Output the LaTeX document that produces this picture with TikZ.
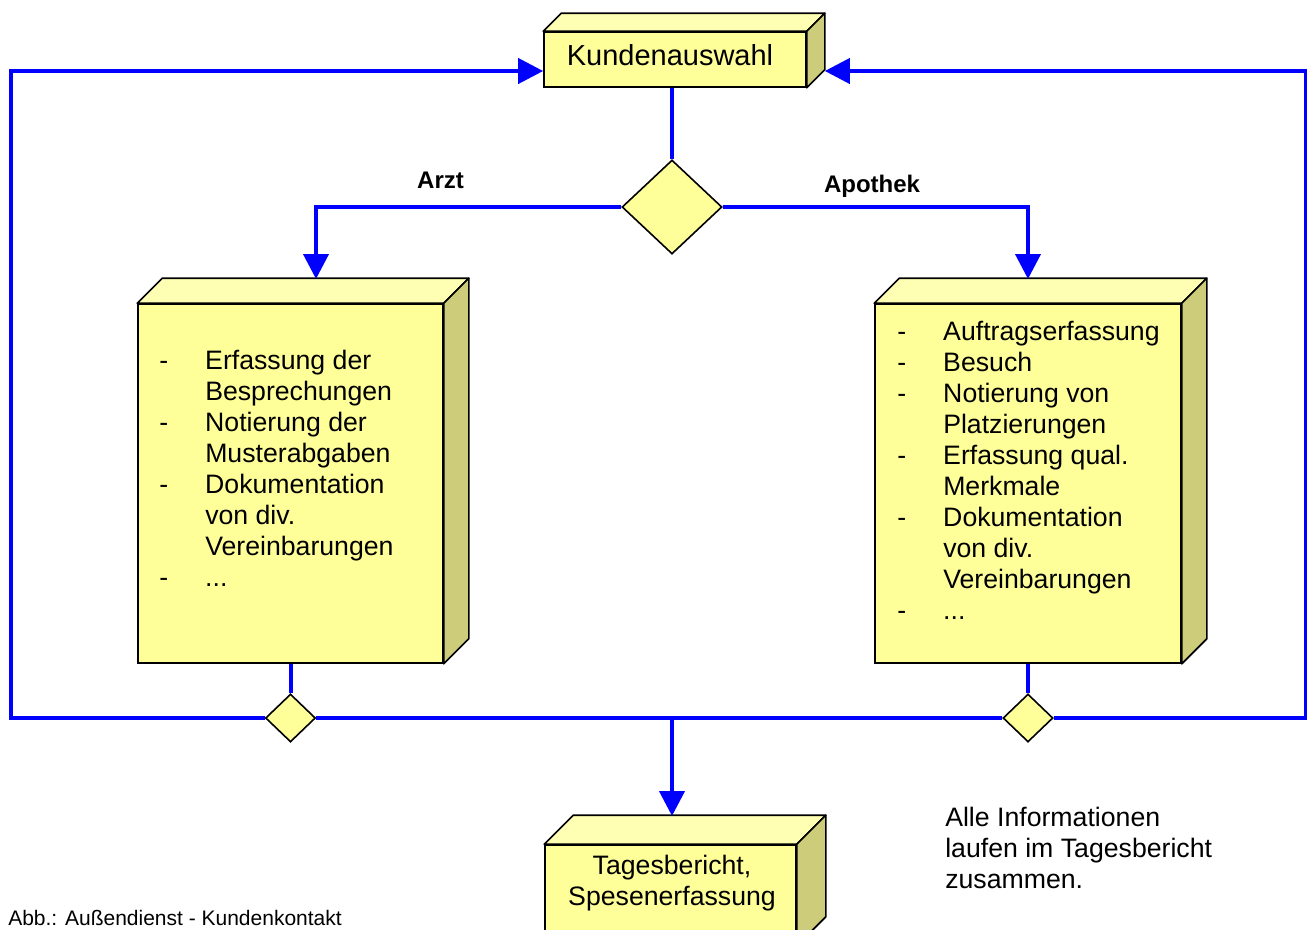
\documentclass[tikz,border=0pt]{standalone}
\usepackage{fontspec}
\setmainfont{Liberation Sans}
\usepackage{tikz}
\usetikzlibrary{shapes.geometric, arrows.meta, positioning, calc}
\definecolor{boxfront}{RGB}{255,255,153}
\definecolor{boxlid}{RGB}{255,255,179}
\definecolor{boxside}{RGB}{204,204,122}
\definecolor{flowblue}{RGB}{0,0,255}

% top and side face of a box, #1 = front node, #2 = depth
\newcommand{\boxfaces}[2]{%
  \draw[boxline, fill=boxlid] (#1.north west) -- ++(#2,-#2) -- ($(#1.north east)+(#2,-#2)$) -- (#1.north east) -- cycle;
  \draw[boxline, fill=boxside] (#1.north east) -- ++(#2,-#2) -- ($(#1.south east)+(#2,-#2)$) -- (#1.south east) -- cycle;
}

\begin{document}
\begin{tikzpicture}[x=0.75pt, y=-0.75pt,
    front/.style={draw, line width=1.2pt, fill=boxfront, inner sep=0pt},
    boxline/.style={line width=1.2pt, line join=round},
    choice/.style={diamond, draw, line width=1.2pt, fill=boxfront, inner sep=0pt},
    flow/.style={draw=flowblue, line width=3pt},
    flowarrow/.style={flow, -{Triangle[length=18.75pt, width=18.75pt]}},
    txt/.style={inner sep=0pt, font=\fontsize{20}{23.25}\selectfont},
    branch/.style={inner sep=0pt, font=\fontsize{18}{21}\selectfont\bfseries}]
    \useasboundingbox (0,0) rectangle (1307,929);
    \clip (0,0) rectangle (1307,929);

    % boxes
    \node[front, minimum width=196.5pt, minimum height=41.25pt] (kunden) at (675,59.5) {};
    \boxfaces{kunden}{18}
    \node[txt, anchor=base, font=\fontsize{21.75}{25}\selectfont] (kundentext) at (670,65) {Kundenauswahl};

    \node[front, minimum width=228.75pt, minimum height=269.25pt] (arzt) at (290.5,483.5) {};
    \boxfaces{arzt}{25}
    \node[front, minimum width=229.5pt, minimum height=269.25pt] (apo) at (1028,483.5) {};
    \boxfaces{apo}{25}
    \node[front, minimum width=188.25pt, minimum height=75pt] (tages) at (670.5,895) {};
    \boxfaces{tages}{29}

    % decisions
    \node[choice, minimum width=75pt, minimum height=70.5pt] (mainsel) at (672,207) {};
    \node[choice, minimum width=37.5pt, minimum height=36pt] (sel1) at (290.5,718) {};
    \node[choice, minimum width=37.5pt, minimum height=36pt] (sel2) at (1028,718) {};

    \coordinate (arztin) at (316,279);
    \coordinate (apoin) at (1028,279);
    \coordinate (tagesin) at (672,816);
    \coordinate (ltop) at (11,71);
    \coordinate (rtop) at (1306,71);
    \coordinate (kundenback) at ($(kunden.east)+(18,0)$);

    % connectors
    \draw[flow] (mainsel.north |- kunden.south) -- (mainsel.north);
    \draw[flowarrow] (mainsel.west) -| (arztin);
    \draw[flowarrow] (mainsel.east) -| (apoin);
    \draw[flow] (arzt.south) -- (sel1.north);
    \draw[flow] (apo.south) -- (sel2.north);
    \draw[flow] (sel1.east) -- (sel2.west);
    \draw[flowarrow] (sel1.west) -| (ltop) -- (ltop -| kunden.west);
    \draw[flowarrow] (sel2.east) -| (rtop) -- (rtop -| kundenback);
    \draw[flowarrow] (sel1.east -| tagesin) -- (tagesin);

    \node[branch, anchor=base] (arztlabel) at (440.5,188) {Arzt};
    \node[branch, anchor=base] (apolabel) at (872,192) {Apothek};

    % texts
    \node[txt, anchor=base west] (arztlist) at (159,369) {\begin{tabular}[t]{@{}p{34.5pt}@{}l@{}}
        - & Erfassung der\\
          & Besprechungen\\
        - & Notierung der\\
          & Musterabgaben\\
        - & Dokumentation\\
          & von div.\\
          & Vereinbarungen\\
        - & ...
      \end{tabular}};
    \node[txt, anchor=base west] (apolist) at (897,340) {\begin{tabular}[t]{@{}p{34.5pt}@{}l@{}}
        - & Auftragserfassung\\
        - & Besuch\\
        - & Notierung von\\
          & Platzierungen\\
        - & Erfassung qual.\\
          & Merkmale\\
        - & Dokumentation\\
          & von div.\\
          & Vereinbarungen\\
        - & ...
      \end{tabular}};
    \node[txt, anchor=base] (tagestext) at (672,874) {\begin{tabular}[t]{@{}c@{}}Tagesbericht,\\Spesenerfassung\end{tabular}};
    \node[txt, anchor=base west] (note) at (945,826) {\begin{tabular}[t]{@{}l@{}}Alle Informationen\\laufen im Tagesbericht\\zusammen.\end{tabular}};
    \node[txt, anchor=base west, font=\fontsize{15.75}{18}\selectfont] (caption) at (8,925) {Abb.: Außendienst - Kundenkontakt};
\end{tikzpicture}
\end{document}
